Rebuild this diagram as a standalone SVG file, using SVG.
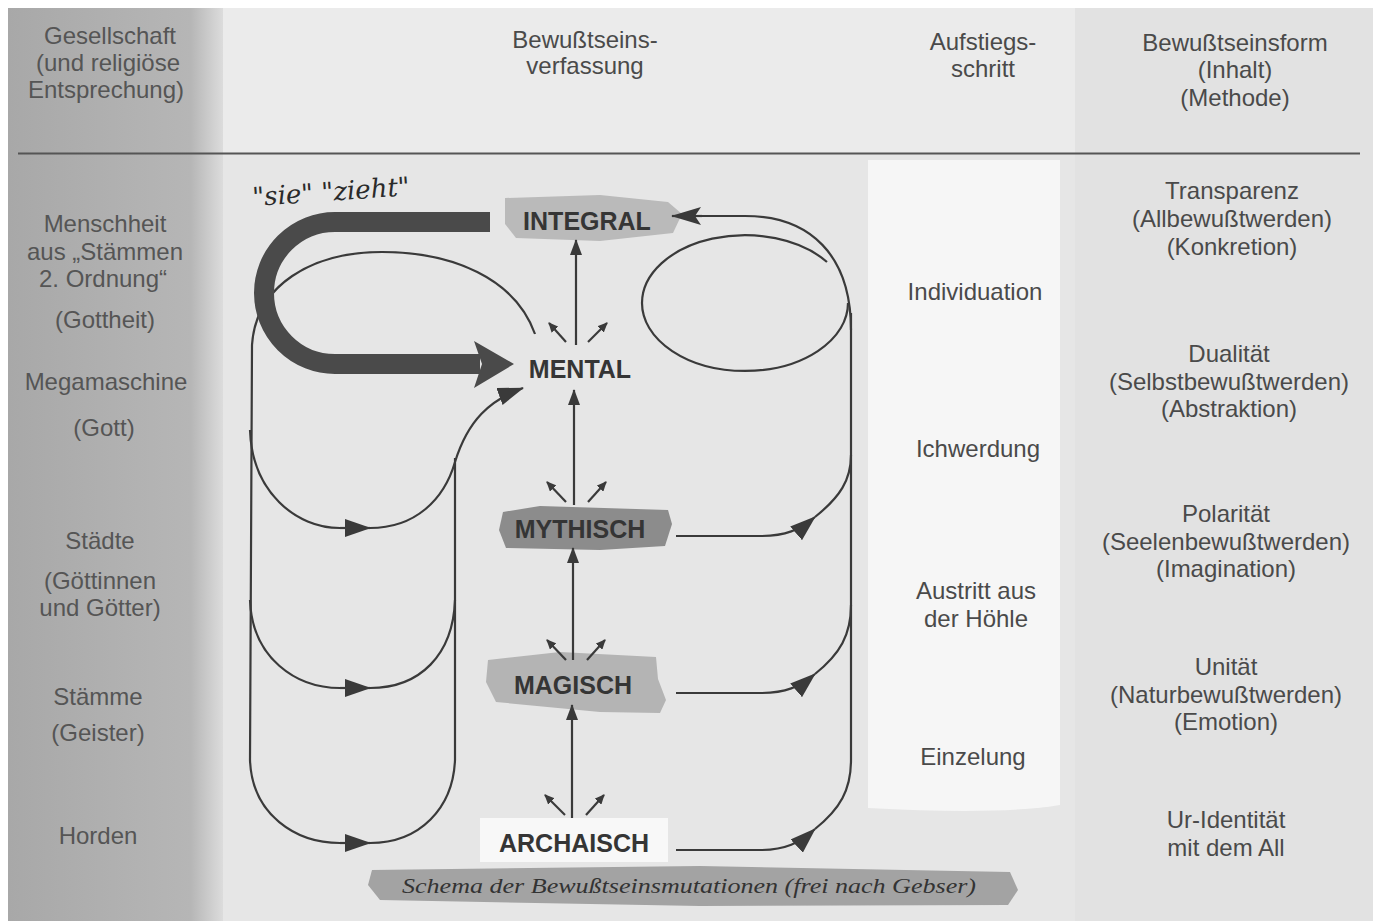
<svg xmlns="http://www.w3.org/2000/svg" width="1373" height="921" viewBox="0 0 1373 921">
<defs>
<linearGradient id="leftgrad" x1="0" y1="0" x2="1" y2="0">
<stop offset="0" stop-color="#a8a8a8"/>
<stop offset="0.85" stop-color="#b6b6b6"/>
<stop offset="1" stop-color="#dcdcdc"/>
</linearGradient>
<marker id="mbig" markerUnits="userSpaceOnUse" viewBox="0 0 26 18" markerWidth="26" markerHeight="18" refX="25" refY="9" orient="auto">
<path d="M0,0 L26,9 L0,18 z" fill="#3a3a3a"/>
</marker>
<marker id="mint" markerUnits="userSpaceOnUse" viewBox="0 0 30 18" markerWidth="30" markerHeight="18" refX="29" refY="9" orient="auto">
<path d="M0,0 L30,9 L0,18 L6,9 z" fill="#3a3a3a"/>
</marker>
<marker id="mmid" markerUnits="userSpaceOnUse" viewBox="0 0 16 12" markerWidth="16" markerHeight="12" refX="15" refY="6" orient="auto">
<path d="M0,0 L16,6 L0,12 z" fill="#3a3a3a"/>
</marker>
<marker id="msmall" markerUnits="userSpaceOnUse" viewBox="0 0 10 9" markerWidth="10" markerHeight="9" refX="9" refY="4.5" orient="auto">
<path d="M0,0 L10,4.5 L0,9 z" fill="#3a3a3a"/>
</marker>
</defs>
<style>
.t{font-family:"Liberation Sans",Arial,sans-serif;font-size:24px;fill:#4a4a4a;text-anchor:middle}
.tl{font-family:"Liberation Sans",Arial,sans-serif;font-size:24px;fill:#555555;text-anchor:middle}
.b{font-family:"Liberation Sans",Arial,sans-serif;font-size:25px;font-weight:bold;fill:#353535;text-anchor:middle}
.ln{fill:none;stroke:#3a3a3a;stroke-width:2.2}
.big{marker-end:url(#mbig)}
.mid{marker-end:url(#mmid)}
.sm{marker-end:url(#msmall)}
</style>

<!-- background -->
<rect x="0" y="0" width="1373" height="921" fill="#ffffff"/>
<rect x="8" y="8" width="1365" height="913" fill="#e6e6e6"/>
<rect x="215" y="8" width="870" height="145" fill="#ebebeb"/>
<rect x="1075" y="8" width="298" height="913" fill="#e2e2e2"/>
<rect x="8" y="8" width="215" height="913" fill="url(#leftgrad)"/>
<path d="M868,160 L1060,160 L1060,805 Q1000,815 868,808 Z" fill="#f6f6f6"/>

<!-- header -->
<g id="header">
<text class="tl" x="110" y="44">Gesellschaft</text>
<text class="tl" x="108" y="71">(und religiöse</text>
<text class="tl" x="106" y="98">Entsprechung)</text>
<text class="t" x="585" y="48">Bewußtseins-</text>
<text class="t" x="585" y="74">verfassung</text>
<text class="t" x="983" y="50">Aufstiegs-</text>
<text class="t" x="983" y="77">schritt</text>
<text class="t" x="1235" y="51">Bewußtseinsform</text>
<text class="t" x="1235" y="78">(Inhalt)</text>
<text class="t" x="1235" y="106">(Methode)</text>
<line x1="18" y1="153.5" x2="1360" y2="153.5" stroke="#555555" stroke-width="2"/>
</g>

<!-- left column -->
<g id="society">
<text class="tl" x="105" y="232">Menschheit</text>
<text class="tl" x="105" y="260">aus „Stämmen</text>
<text class="tl" x="103" y="287">2. Ordnung“</text>
<text class="tl" x="105" y="328">(Gottheit)</text>
<text class="tl" x="106" y="390">Megamaschine</text>
<text class="tl" x="104" y="436">(Gott)</text>
<text class="tl" x="100" y="549">Städte</text>
<text class="tl" x="100" y="589">(Göttinnen</text>
<text class="tl" x="100" y="616">und Götter)</text>
<text class="tl" x="98" y="705">Stämme</text>
<text class="tl" x="98" y="741">(Geister)</text>
<text class="tl" x="98" y="844">Horden</text>
</g>

<!-- middle column -->
<g id="steps">
<text class="t" x="975" y="300">Individuation</text>
<text class="t" x="978" y="457">Ichwerdung</text>
<text class="t" x="976" y="599">Austritt aus</text>
<text class="t" x="976" y="627">der Höhle</text>
<text class="t" x="973" y="765">Einzelung</text>
</g>

<!-- right column -->
<g id="forms">
<text class="t" x="1232" y="199">Transparenz</text>
<text class="t" x="1232" y="227">(Allbewußtwerden)</text>
<text class="t" x="1232" y="255">(Konkretion)</text>
<text class="t" x="1229" y="362">Dualität</text>
<text class="t" x="1229" y="390">(Selbstbewußtwerden)</text>
<text class="t" x="1229" y="417">(Abstraktion)</text>
<text class="t" x="1226" y="522">Polarität</text>
<text class="t" x="1226" y="550">(Seelenbewußtwerden)</text>
<text class="t" x="1226" y="577">(Imagination)</text>
<text class="t" x="1226" y="675">Unität</text>
<text class="t" x="1226" y="703">(Naturbewußtwerden)</text>
<text class="t" x="1226" y="730">(Emotion)</text>
<text class="t" x="1226" y="828">Ur-Identität</text>
<text class="t" x="1226" y="856">mit dem All</text>
</g>

<!-- nodes -->
<g id="integral">
<polygon points="505,198 600,195 668,202 682,214 673,233 600,241 516,238 505,224" fill="#bababa"/>
<text class="b" x="587" y="230">INTEGRAL</text>
</g>
<g id="mental">
<text class="b" x="580" y="378">MENTAL</text>
</g>
<g id="mythisch">
<polygon points="503,512 540,506 668,510 672,524 665,546 600,550 506,548 499,530" fill="#8c8c8c"/>
<text class="b" x="580" y="538">MYTHISCH</text>
</g>
<g id="magisch">
<polygon points="488,660 560,652 656,657 658,679 666,700 660,713 600,712 496,702 486,682" fill="#b4b4b4"/>
<text class="b" x="573" y="694">MAGISCH</text>
</g>
<g id="archaisch">
<rect x="480" y="818" width="188" height="44" fill="#f8f8f8"/>
<text class="b" x="574" y="852">ARCHAISCH</text>
</g>

<!-- connectors -->
<g id="connectors">
<!-- left structure -->
<path class="ln" d="M535,334 C515,278 452,252 382,252 C312,252 256,285 252,345 L250,760 C252,815 296,843 340,843"/>
<path class="ln big" d="M340,843 L370,843"/>
<path class="ln" d="M370,843 C420,843 453,808 455,760 L455,458"/>
<path class="ln" d="M250,430 C252,492 296,528 340,528"/>
<path class="ln big" d="M340,528 L370,528"/>
<path class="ln big" d="M370,528 C415,528 444,500 455,462 C468,420 490,400 523,388"/>
<path class="ln" d="M250,600 C252,658 296,688 340,688"/>
<path class="ln big" d="M340,688 L370,688"/>
<path class="ln" d="M370,688 C420,688 453,655 455,600"/>

<!-- right structure -->
<path class="ln" d="M851,760 L851,313"/>
<path class="ln" d="M851,330 C851,255 810,216 745,216 L702,216"/>
<path class="ln" d="M702,216 L672,216" marker-end="url(#mint)"/>
<path class="ln" d="M848,303 A103,68 0 0 1 642,303 A103,68 0 0 1 827,262"/>
<path class="ln big" d="M676,536 L760,536 C785,536 800,530 815,517"/>
<path class="ln" d="M815,517 C840,497 851,480 851,455"/>
<path class="ln big" d="M676,693 L760,693 C785,693 800,687 815,674"/>
<path class="ln" d="M815,674 C840,654 851,635 851,605"/>
<path class="ln big" d="M676,850 L760,850 C785,850 800,843 815,829"/>
<path class="ln" d="M815,829 C840,809 851,790 851,760"/>

<!-- vertical ascent arrows -->
<path class="ln mid" d="M572,818 L572,705"/>
<path class="ln mid" d="M573,660 L573,548"/>
<path class="ln mid" d="M574,505 L574,390"/>
<path class="ln mid" d="M576,345 L576,240"/>

<!-- small radiating arrows -->
<path class="ln sm" d="M566,342 L549,323"/>
<path class="ln sm" d="M588,342 L607,323"/>
<path class="ln sm" d="M566,502 L547,482"/>
<path class="ln sm" d="M588,502 L606,482"/>
<path class="ln sm" d="M566,660 L547,640"/>
<path class="ln sm" d="M587,660 L605,640"/>
<path class="ln sm" d="M565,815 L545,795"/>
<path class="ln sm" d="M586,815 L604,795"/>

<!-- thick arrow -->
<path d="M490,222 L335,222 A71,71 0 0 0 335,364 L480,364" fill="none" stroke="#4a4a4a" stroke-width="20"/>
<polygon points="474,341 514,364 474,388 482,364" fill="#4a4a4a"/>
</g>

<!-- handwritten note -->
<g id="note">
<text x="252" y="200" transform="rotate(-4 340 190)" font-family="DejaVu Serif, serif" font-style="italic" font-size="26" fill="#2a2a2a">"sie" "zieht"</text>
</g>

<!-- caption -->
<g id="caption">
<polygon points="372,870 700,866 1010,872 1018,890 1008,905 700,906 380,900 368,885" fill="#a3a3a3"/>
<text x="402" y="893" font-family="Liberation Serif, serif" font-style="italic" font-size="22" fill="#333333" textLength="574" lengthAdjust="spacingAndGlyphs">Schema der Bewußtseinsmutationen (frei nach Gebser)</text>
</g>
</svg>
